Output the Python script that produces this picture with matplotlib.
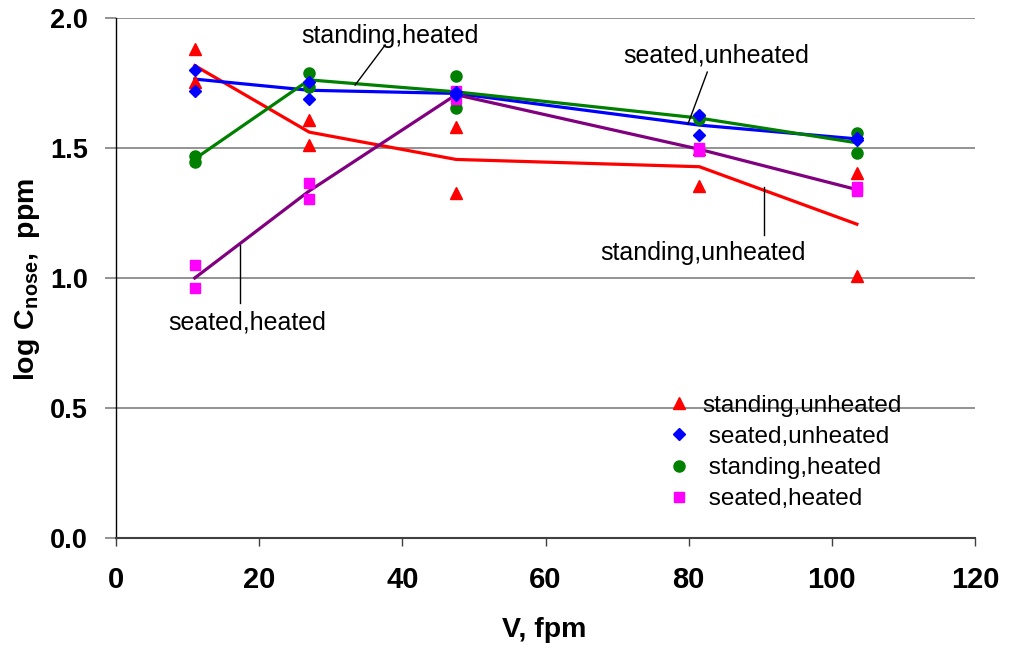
import matplotlib
matplotlib.use("Agg")
import matplotlib.pyplot as plt
from matplotlib.lines import Line2D

plt.rcParams['font.family'] = ['Liberation Sans', 'DejaVu Sans']
plt.rcParams['mathtext.fontset'] = 'custom'
plt.rcParams['mathtext.rm'] = 'Liberation Sans'
plt.rcParams['mathtext.bf'] = 'Liberation Sans:bold'

# velocities (fpm)
v_levels = [11, 27, 47.5, 81.5, 103.5]

# scatter points: two replicates per velocity
su_x = [11, 11, 27, 27, 47.5, 47.5, 81.5, 81.5, 103.5, 103.5]
su_y = [1.88, 1.755, 1.608, 1.51, 1.582, 1.327, 1.496, 1.354, 1.405, 1.009]

seu_x = [11, 11, 27, 27, 47.5, 47.5, 81.5, 81.5, 103.5, 103.5]
seu_y = [1.80, 1.719, 1.755, 1.688, 1.715, 1.705, 1.627, 1.55, 1.54, 1.53]

sh_x = [11, 11, 27, 27, 47.5, 47.5, 81.5, 81.5, 103.5, 103.5]
sh_y = [1.469, 1.446, 1.79, 1.736, 1.778, 1.654, 1.62, 1.61, 1.557, 1.482]

seh_x = [11, 11, 27, 27, 47.5, 47.5, 81.5, 81.5, 103.5, 103.5]
seh_y = [1.05, 0.96, 1.365, 1.304, 1.72, 1.69, 1.50, 1.49, 1.35, 1.335]

# mean lines
su_line = [1.817, 1.561, 1.456, 1.428, 1.207]
seu_line = [1.765, 1.722, 1.71, 1.588, 1.535]
sh_line = [1.458, 1.762, 1.716, 1.615, 1.52]
seh_line = [1.0, 1.335, 1.705, 1.495, 1.34]

x_ticks = [0, 20, 40, 60, 80, 100, 120]
y_ticks = [0.0, 0.5, 1.0, 1.5, 2.0]

W, H = 1009, 652
fig = plt.figure(figsize=(W/100, H/100), dpi=100)
ax = fig.add_axes([116/W, 1-538/H, (975-116)/W, (538-18)/H])

lw = 2.3
ax.plot(v_levels, su_line, color='#ff0000', lw=lw, zorder=3)
ax.plot(v_levels, seu_line, color='#0000ff', lw=lw, zorder=3)
ax.plot(v_levels, sh_line, color='#008000', lw=lw, zorder=3)
ax.plot(v_levels, seh_line, color='#800080', lw=lw, zorder=3)

ms = 8
ax.plot(su_x, su_y, ls='none', marker='^', color='#ff0000', ms=ms, zorder=4)
ax.plot(sh_x, sh_y, ls='none', marker='o', color='#008000', ms=ms, zorder=4)
ax.plot(seh_x, seh_y, ls='none', marker='s', color='#ff00ff', ms=ms-1, zorder=4)
ax.plot(seu_x, seu_y, ls='none', marker='D', color='#0000ff', ms=ms-1.5, zorder=5)

ax.set_xlim(0, 120)
ax.set_ylim(0, 2.0)
ax.set_xticks(x_ticks)
ax.set_yticks(y_ticks)
ax.set_xticklabels([str(t) for t in x_ticks], fontsize=21, fontweight='bold')
ax.set_yticklabels([f"{t:.1f}" for t in y_ticks], fontsize=19.5, fontweight='bold')
ax.yaxis.grid(True, color='#808080', lw=1.2)
ax.set_axisbelow(True)
for s in ['top', 'right']:
    ax.spines[s].set_visible(False)
ax.spines['left'].set_color('black')
ax.spines['left'].set_linewidth(1.0)
ax.spines['bottom'].set_color('#404040')
ax.spines['bottom'].set_linewidth(1.5)
ax.tick_params(axis='x', direction='out', length=6, width=1, color='#404040', pad=14)
ax.tick_params(axis='y', direction='out', length=8, width=1.2, color='#808080', pad=12)

fig.text(544/W, 1-637/H, 'V, fpm', fontsize=20.5, fontweight='bold',
         ha='center', va='baseline')
fig.text(27/W, 1-279/H, r'$\mathbf{log\ C_{nose},\ ppm}$', fontsize=20.5,
         ha='center', va='center', rotation=90)

tfs = 18
ax.text(38.3, 1.93, 'standing,heated', fontsize=tfs, ha='center', va='center')
ax.plot([33.4, 37.6], [1.742, 1.896], color='black', lw=1, zorder=6)
ax.text(83.8, 1.854, 'seated,unheated', fontsize=tfs, ha='center', va='center')
ax.plot([79.9, 82.6], [1.592, 1.792], color='black', lw=1, zorder=6)
ax.text(82.0, 1.096, 'standing,unheated', fontsize=tfs, ha='center', va='center')
ax.plot([90.5, 90.5], [1.35, 1.165], color='black', lw=1, zorder=6)
ax.text(18.3, 0.827, 'seated,heated', fontsize=tfs, ha='center', va='center')
ax.plot([17.3, 17.3], [1.127, 0.904], color='black', lw=1, zorder=6)

handles = [
    Line2D([], [], ls='none', marker='^', color='#ff0000', ms=ms),
    Line2D([], [], ls='none', marker='D', color='#0000ff', ms=ms-1.5),
    Line2D([], [], ls='none', marker='o', color='#008000', ms=ms),
    Line2D([], [], ls='none', marker='s', color='#ff00ff', ms=ms-1),
]
labels = ['standing,unheated', ' seated,unheated', ' standing,heated', ' seated,heated']
leg = ax.legend(handles, labels, loc='upper left', bbox_to_anchor=(657/W, 1-385/H),
                bbox_transform=fig.transFigure, frameon=False, fontsize=17.5,
                handlelength=1.0, handletextpad=0.45, labelspacing=0.38, borderaxespad=0)

fig.savefig('out.png', dpi=100)
